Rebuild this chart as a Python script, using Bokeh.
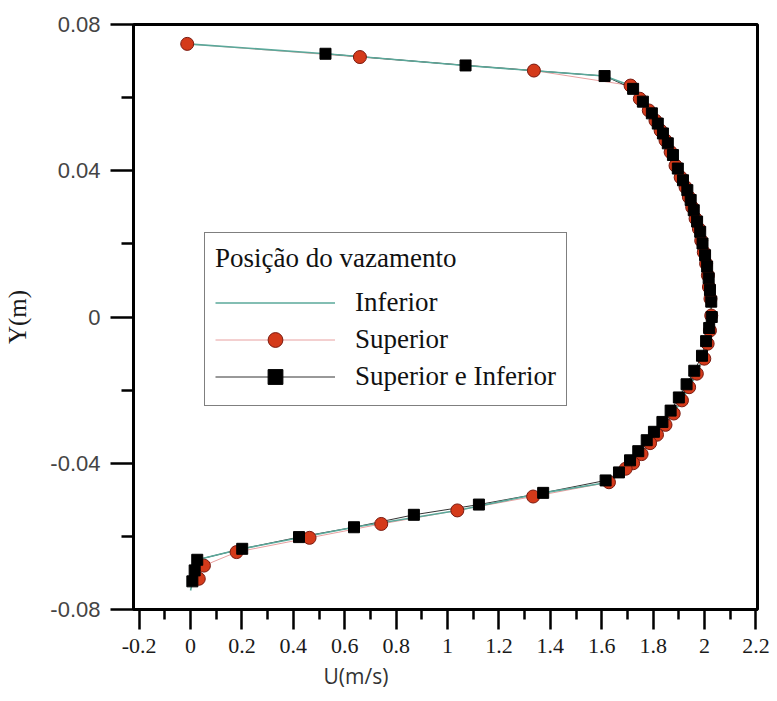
from bokeh.plotting import figure
from bokeh.models import Legend, LegendItem, FixedTicker, Title, Range1d
from bokeh.embed import file_html
from bokeh.resources import INLINE

# Superior (red circles)
sup_u = [-0.013, 0.659, 1.336, 1.712, 1.748, 1.783, 1.809, 1.829, 1.848, 1.868, 1.887, 1.907, 1.926,
         1.939, 1.952, 1.965, 1.978, 1.987, 1.997, 2.006, 2.013, 2.017, 2.023, 2.026,
         2.021, 2.012, 1.999, 1.970, 1.940, 1.912, 1.880, 1.848, 1.815, 1.788,
         1.755, 1.722, 1.693, 1.628, 1.333, 1.038, 0.742, 0.463, 0.179, 0.052, 0.032]
sup_y = [0.0747, 0.0711, 0.0674, 0.0633, 0.0597, 0.0565, 0.0537, 0.0510, 0.0483, 0.0451, 0.0414, 0.0382, 0.0355,
         0.0328, 0.0300, 0.0269, 0.0241, 0.0209, 0.0177, 0.0146, 0.0114, 0.0082, 0.0050, 0.0004,
         -0.0037, -0.0073, -0.0114, -0.0155, -0.0192, -0.0228, -0.0264, -0.0295, -0.0322, -0.0345,
         -0.0375, -0.0400, -0.0415, -0.0452, -0.0491, -0.0529, -0.0566, -0.0604, -0.0643, -0.0680, -0.0716]

# Superior e Inferior (black squares)
si_u = [0.525, 1.070, 1.611, 1.722, 1.760, 1.795, 1.818, 1.838, 1.857, 1.877, 1.896, 1.916, 1.933,
        1.946, 1.958, 1.971, 1.983, 1.992, 2.002, 2.010, 2.016, 2.021, 2.026, 2.028,
        2.018, 2.006, 1.990, 1.960, 1.930, 1.900, 1.868, 1.836, 1.803, 1.775,
        1.742, 1.710, 1.667, 1.615, 1.372, 1.122, 0.869, 0.636, 0.422, 0.201, 0.026, 0.016, 0.007]
si_y = [0.0720, 0.0688, 0.0659, 0.0624, 0.0589, 0.0557, 0.0529, 0.0502, 0.0475, 0.0443, 0.0406, 0.0374, 0.0347,
        0.0320, 0.0292, 0.0261, 0.0233, 0.0201, 0.0169, 0.0138, 0.0106, 0.0074, 0.0042, 0.0000,
        -0.0030, -0.0066, -0.0106, -0.0147, -0.0184, -0.0220, -0.0256, -0.0287, -0.0314, -0.0337,
        -0.0367, -0.0392, -0.0425, -0.0447, -0.0481, -0.0513, -0.0541, -0.0575, -0.0602, -0.0634,
        -0.0664, -0.0693, -0.0723]

# Inferior (green line)
inf_u = [-0.013, 0.525, 1.070, 1.611, 1.712, 1.783, 1.848, 1.907, 1.952, 1.987, 2.013, 2.026, 2.012,
         1.970, 1.912, 1.848, 1.788, 1.722, 1.628, 1.372, 1.038, 0.636, 0.201, 0.026, 0.000]
inf_y = [0.0747, 0.0720, 0.0688, 0.0659, 0.0633, 0.0565, 0.0483, 0.0382, 0.0300, 0.0209, 0.0114, 0.0004, -0.0073,
         -0.0155, -0.0228, -0.0295, -0.0345, -0.0400, -0.0452, -0.0481, -0.0529, -0.0575, -0.0634, -0.0664, -0.0748]

x_ticks = [-0.2, 0.0, 0.2, 0.4, 0.6, 0.8, 1.0, 1.2, 1.4, 1.6, 1.8, 2.0, 2.2]
x_tick_labels = ["-0.2", "0", "0.2", "0.4", "0.6", "0.8", "1", "1.2", "1.4", "1.6", "1.8", "2", "2.2"]
x_minor = [-0.1, 0.1, 0.3, 0.5, 0.7, 0.9, 1.1, 1.3, 1.5, 1.7, 1.9, 2.1]
y_ticks = [-0.08, -0.04, 0.0, 0.04, 0.08]
y_tick_labels = ["-0.08", "-0.04", "0", "0.04", "0.08"]
y_minor = [-0.06, -0.02, 0.02, 0.06]

p = figure(width=777, height=701, x_range=Range1d(-0.222, 2.206), y_range=Range1d(-0.08, 0.08),
           output_backend="svg", toolbar_location=None,
           min_border_left=133, min_border_right=20, min_border_top=24, min_border_bottom=92)
p.background_fill_color = "white"
p.border_fill_color = "white"
p.outline_line_color = "black"
p.outline_line_width = 3
p.xgrid.visible = False
p.ygrid.visible = False

r_sup_line = p.line(sup_u, sup_y, line_color="#e8a0a0", line_width=1)
r_si_line = p.line(si_u, si_y, line_color="#333333", line_width=1)
r_inf = p.line(inf_u, inf_y, line_color="#5aa89a", line_width=1.6)
r_sup = p.scatter(sup_u, sup_y, marker="circle", size=13, fill_color="#d43a1a", line_color="#7a1a10", line_width=1)
r_si = p.scatter(si_u, si_y, marker="square", size=11, fill_color="black", line_color="black")

xa = p.xaxis[0]
xa.ticker = FixedTicker(ticks=x_ticks, minor_ticks=x_minor)
xa.major_label_overrides = dict(zip(x_ticks, x_tick_labels))
xa.axis_line_width = 3
xa.major_tick_out = 20
xa.major_tick_in = 0
xa.minor_tick_out = 10
xa.minor_tick_in = 0
xa.major_tick_line_width = 2.5
xa.minor_tick_line_width = 2.5
xa.major_label_text_font = "Liberation Serif"
xa.major_label_text_font_size = "22px"
xa.major_label_text_color = "#1a1a1a"
xa.major_label_standoff = 9

ya = p.yaxis[0]
ya.ticker = FixedTicker(ticks=y_ticks, minor_ticks=y_minor)
ya.major_label_overrides = dict(zip(y_ticks, y_tick_labels))
ya.axis_line_width = 3
ya.major_tick_out = 23
ya.major_tick_in = 0
ya.minor_tick_out = 12
ya.minor_tick_in = 0
ya.major_tick_line_width = 2.5
ya.minor_tick_line_width = 2.5
ya.major_label_text_font = "Liberation Sans"
ya.major_label_text_font_size = "22px"
ya.major_label_text_color = "#444444"
ya.major_label_standoff = 10
ya.axis_label = "Y(m)"
ya.axis_label_text_font = "Liberation Serif"
ya.axis_label_text_font_size = "25px"
ya.axis_label_text_font_style = "normal"
ya.axis_label_text_color = "#1a1a1a"
ya.axis_label_standoff = 16

xt = Title(text="U(m/s)", align="left", offset=190, standoff=8,
           text_font="Open Sans", text_font_size="21px", text_font_style="normal", text_color="#333333")
p.add_layout(xt, "below")

legend = Legend(
    items=[LegendItem(label="Inferior", renderers=[r_inf]),
           LegendItem(label="Superior", renderers=[r_sup_line, r_sup]),
           LegendItem(label="Superior e Inferior", renderers=[r_si_line, r_si])],
    title="Posição do vazamento", location=(71, 203), margin=0, padding=10, spacing=0,
    glyph_width=120, glyph_height=37, label_height=30, label_standoff=20,
    label_text_font="Liberation Serif", label_text_font_size="27px", label_text_color="#111111",
    title_text_font="Liberation Serif", title_text_font_size="27px", title_text_font_style="normal",
    title_text_color="#111111", title_standoff=10,
    border_line_color="black", border_line_width=1.5, background_fill_color="white", background_fill_alpha=1)
p.add_layout(legend)

open("out.html", "w").write(file_html(p, INLINE))
